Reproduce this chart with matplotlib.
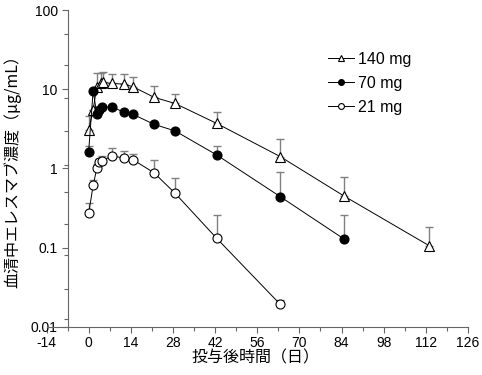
import numpy as np
import matplotlib.pyplot as plt
from matplotlib.ticker import FixedLocator, MultipleLocator, NullFormatter

# 投与後時間（日）
days_140 = [0, 1.5, 2.7, 4.2, 4.8, 7.7, 11.7, 14.8, 21.7, 28.7, 42.5, 63.6, 84.7, 113]
conc_140 = [3.05, 5.5, 10.8, 12.0, 12.2, 11.8, 11.6, 10.7, 7.9, 6.6, 3.7, 1.41, 0.45, 0.106]
err_140 = [4.6, 5.5, 15.9, 16.2, 16.3, 15.5, 15.5, 14.4, 11.1, 8.6, 5.2, 2.35, 0.77, 0.18]

days_70 = [0, 1.5, 2.7, 3.6, 4.5, 7.7, 11.7, 14.8, 21.7, 28.7, 42.5, 63.6, 84.7]
conc_70 = [1.63, 9.6, 4.8, 5.5, 5.9, 6.0, 5.1, 4.8, 3.6, 2.97, 1.48, 0.44, 0.129]
err_70 = [1.94, 9.6, 4.8, 5.5, 5.9, 6.0, 5.1, 4.8, 3.6, 3.1, 1.94, 0.91, 0.258]

days_21 = [0, 1.5, 2.7, 3.6, 4.5, 7.7, 11.7, 14.8, 21.7, 28.7, 42.5, 63.6]
conc_21 = [0.27, 0.61, 1.0, 1.22, 1.24, 1.44, 1.35, 1.28, 0.88, 0.485, 0.131, 0.0192]
err_21 = [0.36, 0.72, 1.13, 1.31, 1.44, 1.79, 1.65, 1.52, 1.27, 0.75, 0.26, 0.022]

labels = ['140 mg', '70 mg', '21 mg']
xticks = np.arange(-14, 127, 14)
yticks = [0.01, 0.1, 1, 10, 100]
yticklabels = ['0.01', '0.1', '1', '10', '100']
yminor = [50, 20, 7.7, 3, 1.1, 0.5, 0.2, 0.08, 0.03, 0.0125]

fig = plt.figure(figsize=(4.82, 3.75), dpi=100)
ax = fig.add_axes([46.5 / 482, 1 - 326.7 / 375, (468 - 46.5) / 482, (326.7 - 10) / 375])

series = [
    (days_140, conc_140, err_140, '^', 'white'),
    (days_70, conc_70, err_70, 'o', 'black'),
    (days_21, conc_21, err_21, 'o', 'white'),
]

handles = []
for (d, c, e, m, fc), lab in zip(series, labels):
    c = np.array(c)
    up = np.array(e) - c
    ax.errorbar(d, c, yerr=[np.zeros_like(c), up], fmt='none', ecolor='0.5',
                elinewidth=1.0, capsize=3, capthick=1.0, zorder=1)
    h, = ax.plot(d, c, marker=m, color='black', mfc=fc, mec='black', mew=0.8,
                 ms=6.5 if m == 'o' else 7, lw=0.7, label=lab, zorder=3)
    handles.append(h)

ax.set_yscale('log')
ax.set_ylim(0.01, 100)
ax.set_xlim(-14, 126)

ax.spines['top'].set_visible(False)
ax.spines['right'].set_visible(False)
ax.spines['left'].set_position(('data', -7))
ax.spines['left'].set_color('0.4')
ax.spines['bottom'].set_color('0.4')

ax.set_xticks(xticks)
ax.set_xticklabels([str(t) for t in xticks])
ax.xaxis.set_minor_locator(MultipleLocator(7))
ax.yaxis.set_major_locator(FixedLocator(yticks))
ax.set_yticklabels(yticklabels)
ax.yaxis.set_minor_locator(FixedLocator(yminor))
ax.yaxis.set_minor_formatter(NullFormatter())

ax.tick_params(axis='both', which='major', length=4, width=0.8, color='0.4',
               labelsize=10, pad=3)
ax.tick_params(axis='both', which='minor', length=3, width=0.8, color='0.4')
for t in ax.get_xticklabels() + ax.get_yticklabels():
    t.set_family('Liberation Sans')

fig.text(255 / 482, 1 - 358 / 375, '投与後時間（日）', ha='center', va='center',
         fontsize=11.5, family=['Noto Sans CJK JP', 'DejaVu Sans'])
fig.text(12 / 482, 1 - 168 / 375, '血清中エレスマブ濃度（μg/mL）', ha='center', va='center',
         rotation=90, fontsize=11.5, family=['Noto Sans CJK JP', 'DejaVu Sans'])

ax.legend(handles=handles, loc='upper left', bbox_to_anchor=(328 / 482, 1 - 52 / 375),
          bbox_transform=fig.transFigure, frameon=False, borderaxespad=0, borderpad=0,
          handlelength=1.6, handletextpad=0.3, labelspacing=0.55, markerscale=0.65,
          prop={'family': 'Liberation Sans', 'size': 11.5})

plt.savefig('out.png', dpi=100)
